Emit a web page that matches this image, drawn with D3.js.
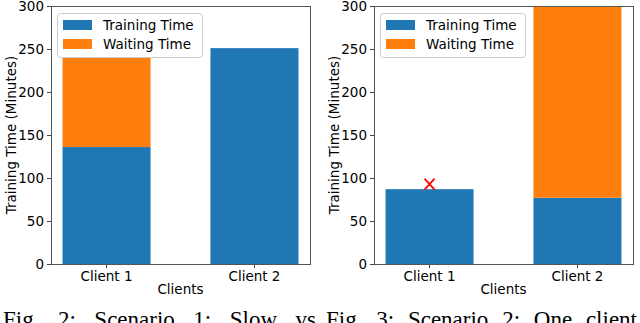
<!DOCTYPE html>
<html>
<head>
<meta charset="utf-8">
<script src="https://cdn.jsdelivr.net/npm/d3@7"></script>
<style>
  body { margin: 0; background: #fff; }
  svg { display: block; }
  .tick text { font-family: "DejaVu Sans", sans-serif; font-size: 13.5px; fill: #000; }
</style>
</head>
<body>
<svg id="chart"></svg>
<script>
// values
const clients = ["Client 1", "Client 2"];
const seriesNames = ["Training Time", "Waiting Time"];
const s1Training = [136, 251];
const s1Waiting = [104, 0];
const s2Training = [87, 77];
const s2Waiting = [0, 228];
const s2Marker = [93, null];   // red "x" over client 1
const yTicks = [0, 50, 100, 150, 200, 250, 300];
const captions = ["Fig. 2: Scenario 1: Slow vs", "Fig. 3: Scenario 2: One client"];

const [w, h] = [640, 323];
const colors = ["#1f77b4", "#ff7f0e"];
const svg = d3.select("#chart").attr("width", w).attr("height", h);

function drawPanel(i, left, training, waiting, marker){
	const [x0, x1, yTop, yBot] = [left, left + 259, 6, 264];
	const g = svg.append("g");

	const xScale = d3.scaleBand().domain(clients).range([x0, x1]).paddingInner(0.405).paddingOuter(0.078);
	const yScale = d3.scaleLinear().domain([0, 300]).range([yBot, yTop]);

	const clipId = "clip" + i;
	svg.append("clipPath").attr("id", clipId).append("rect")
		.attr("x", x0).attr("y", yTop).attr("width", x1 - x0).attr("height", yBot - yTop);

	const stacked = d3.stack().keys([0, 1])(clients.map((c, j) => ({0: training[j], 1: waiting[j]})));
	const bars = g.append("g").attr("clip-path", `url(#${clipId})`);
	stacked.forEach((layer, k) => {
		bars.selectAll(null).data(layer).enter().append("rect")
			.attr("x", (d, j) => xScale(clients[j]))
			.attr("width", xScale.bandwidth())
			.attr("y", d => yScale(d[1]))
			.attr("height", d => yScale(d[0]) - yScale(d[1]))
			.attr("fill", colors[k]);
	});

	// red x markers
	marker.forEach((m, j) => {
		if (m == null) return;
		const cx = xScale(clients[j]) + xScale.bandwidth() / 2, cy = yScale(m), sx = 5, sy = 5.5;
		g.append("path")
			.attr("d", `M${cx - sx},${cy - sy}L${cx + sx},${cy + sy}M${cx - sx},${cy + sy}L${cx + sx},${cy - sy}`)
			.attr("stroke", "red").attr("stroke-width", 1.8).attr("fill", "none");
	});

	// axes
	const yAxis = d3.axisLeft(yScale).tickValues(yTicks).tickSize(4).tickSizeOuter(0).tickPadding(3);
	const ya = g.append("g").attr("transform", `translate(${x0},0)`).call(yAxis);
	ya.select(".domain").remove();
	ya.selectAll(".tick line").attr("stroke", "#444");

	const xAxis = d3.axisBottom(xScale).tickSize(4).tickSizeOuter(0).tickPadding(3);
	const xa = g.append("g").attr("transform", `translate(0,${yBot})`).call(xAxis);
	xa.select(".domain").remove();
	xa.selectAll(".tick line").attr("stroke", "#444");

	// frame
	g.append("rect").attr("x", x0 + 0.5).attr("y", yTop + 0.5)
		.attr("width", x1 - x0).attr("height", yBot - yTop)
		.attr("fill", "none").attr("stroke", "#555").attr("stroke-width", 1);

	// labels
	g.append("text").attr("x", (x0 + x1) / 2).attr("y", 294)
		.attr("text-anchor", "middle").attr("font-family", "DejaVu Sans, sans-serif").attr("font-size", 13.5)
		.text("Clients");
	g.append("text").attr("transform", `translate(${left - 35},${(yTop + yBot) / 2}) rotate(-90)`)
		.attr("text-anchor", "middle").attr("font-family", "DejaVu Sans, sans-serif").attr("font-size", 13.5)
		.text("Training Time (Minutes)");

	// legend
	const lg = g.append("g").attr("transform", `translate(${left + 6},13)`);
	lg.append("rect").attr("x", 0.5).attr("y", 0.5).attr("width", 145).attr("height", 44).attr("rx", 3)
		.attr("fill", "#fff").attr("fill-opacity", 0.8).attr("stroke", "#ccc");
	seriesNames.forEach((name, k) => {
		lg.append("rect").attr("x", 6).attr("y", 7 + k * 19).attr("width", 29).attr("height", 10).attr("fill", colors[k]);
		lg.append("text").attr("x", 46).attr("y", 17 + k * 19)
			.attr("font-family", "DejaVu Sans, sans-serif").attr("font-size", 13.5).text(name);
	});
}

drawPanel(0, 51, s1Training, s1Waiting, [null, null]);
drawPanel(1, 374, s2Training, s2Waiting, s2Marker);

// captions, stretched by widening the word gaps
const capPos = [[3, 316], [326, 637]];
captions.forEach((c, i) => {
	const t = svg.append("text").attr("x", capPos[i][0]).attr("y", 327)
		.attr("font-family", "Liberation Serif, Times New Roman, serif").attr("font-size", 23)
		.text(c);
	const gaps = c.split(" ").length - 1;
	const extra = (capPos[i][1] - capPos[i][0]) - t.node().getComputedTextLength();
	t.attr("word-spacing", Math.max(0, extra / gaps));
});
</script>
</body>
</html>
